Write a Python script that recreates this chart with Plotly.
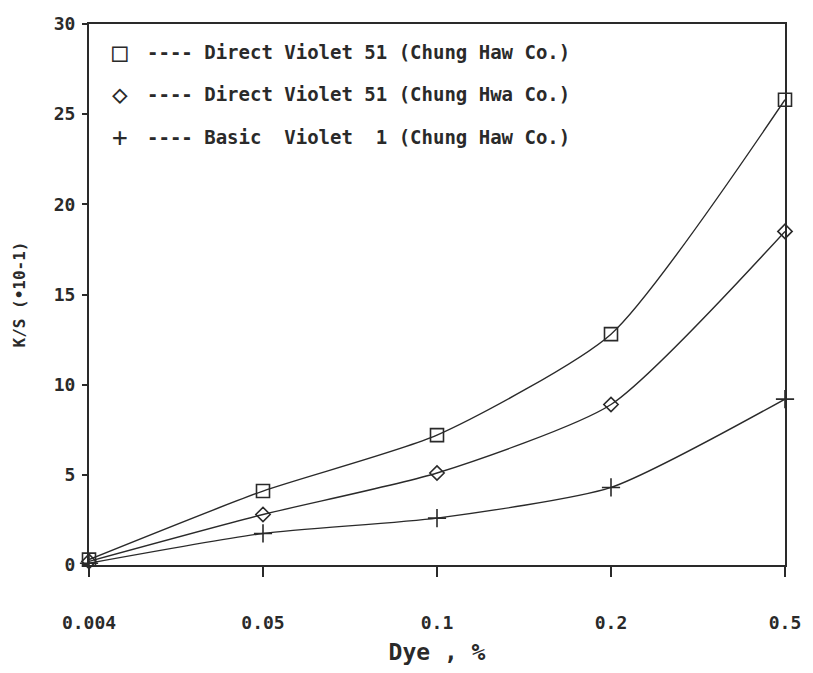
import plotly.graph_objects as go

# Dye concentrations (evenly spaced categories on the x axis)
dye_pct = ["0.004", "0.05", "0.1", "0.2", "0.5"]

# K/S values (x10^-1)
dv51_haw = [0.3, 4.1, 7.2, 12.8, 25.8]
dv51_hwa = [0.2, 2.8, 5.1, 8.9, 18.5]
bv1_haw = [0.1, 1.75, 2.6, 4.3, 9.2]

series_names = [
    "Direct Violet 51 (Chung Haw Co.)",
    "Direct Violet 51 (Chung Hwa Co.)",
    "Basic  Violet  1 (Chung Haw Co.)",
]
y_ticks = [0, 5, 10, 15, 20, 25, 30]
y_tick_text = ["0", "5", "10", "15", "20", "25", "30"]

INK = "#2a2a2a"
MONO = "DejaVu Sans Mono"

fig = go.Figure()

styles = [
    dict(symbol="square-open", size=13),
    dict(symbol="diamond-open", size=11),
    dict(symbol="cross-thin-open", size=13),
]
for name, vals, st in zip(series_names, [dv51_haw, dv51_hwa, bv1_haw], styles):
    fig.add_trace(go.Scatter(
        x=dye_pct, y=vals, name=name,
        mode="lines+markers",
        line=dict(color=INK, width=1.4, shape="spline", smoothing=0.6),
        marker=dict(symbol=st["symbol"], size=st["size"], color=INK,
                    line=dict(color=INK, width=1.6)),
        cliponaxis=False,
        showlegend=False,
    ))

# Hand-set legend block in the upper-left of the plot
legend_glyphs = ["□", "◇", "+"]
legend_y = [52, 95, 138]
for glyph, label, yy in zip(legend_glyphs, series_names, legend_y):
    fig.add_annotation(
        x=120, y=yy, xref="paper", yref="paper", text=glyph,
        showarrow=False, font=dict(family=MONO, size=26, color=INK),
        xanchor="center", yanchor="middle",
    )
    fig.add_annotation(
        x=145, y=yy, xref="paper", yref="paper", text="---- " + label,
        showarrow=False, font=dict(family=MONO, size=19, color=INK, weight="bold"),
        xanchor="left", yanchor="middle",
    )

# convert pixel positions of the legend annotations to paper coordinates
L, R, T, B = 89, 22, 24, 102
W, H = 813, 673
pw, ph = W - L - R, H - T - B
for ann in fig.layout.annotations:
    ann.x = (ann.x - L) / pw
    ann.y = 1 - (ann.y - T) / ph

fig.update_layout(
    width=W, height=H,
    margin=dict(l=L, r=R, t=T, b=B),
    paper_bgcolor="white", plot_bgcolor="white",
    font=dict(family=MONO, color=INK),
)
fig.update_xaxes(
    type="category", categoryorder="array", categoryarray=dye_pct,
    range=[0, 4],
    showgrid=False, zeroline=False,
    showline=True, linecolor=INK, linewidth=2, mirror=True,
    ticks="outside", ticklen=10, tickwidth=1.5, tickcolor=INK,
    ticklabelstandoff=30,
    tickfont=dict(family=MONO, size=18, color=INK, weight="bold"),
    title=dict(text="Dye , %",
               font=dict(family=MONO, size=23, color=INK, weight="bold"),
               standoff=12),
)
fig.update_yaxes(
    range=[0, 30], tickvals=y_ticks, ticktext=y_tick_text,
    showgrid=False, zeroline=False,
    showline=True, linecolor=INK, linewidth=2, mirror=True,
    ticks="outside", ticklen=5, tickwidth=1.5, tickcolor=INK,
    ticklabelstandoff=3,
    tickfont=dict(family=MONO, size=18, color=INK, weight="bold"),
    title=dict(text="K/S (•10-1)",
               font=dict(family=MONO, size=16, color=INK, weight="bold"),
               standoff=24),
)

fig.write_html("out.html")
